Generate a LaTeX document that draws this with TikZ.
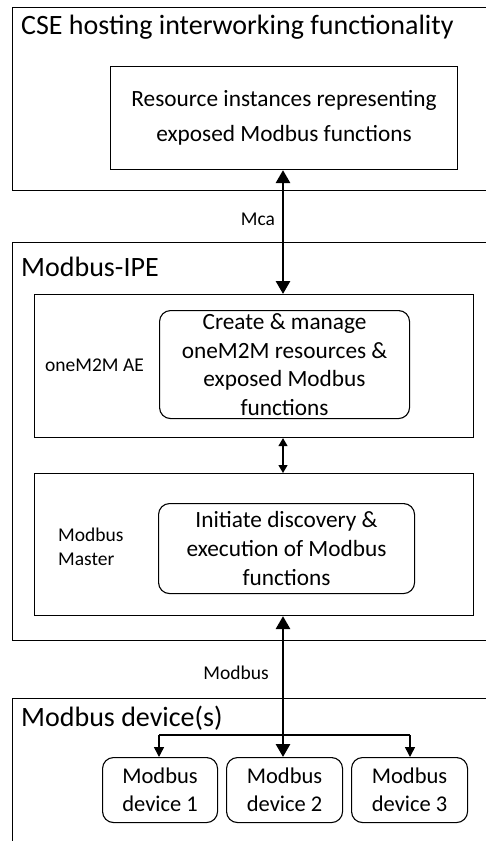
\documentclass[tikz,border=0pt]{standalone}
\usepackage{fontspec}
\setmainfont{Carlito}
\usetikzlibrary{arrows.meta}
\begin{document}
\begin{tikzpicture}[x=1pt,y=-1pt,
  outerbox/.style={draw, line width=1.2pt, anchor=north west, inner sep=0pt},
  innerbox/.style={draw, line width=1.1pt, anchor=north west, inner sep=0pt},
  roundbox/.style={draw, line width=1.1pt, rounded corners=11pt, anchor=north west, inner sep=0pt, align=center},
  title/.style={anchor=west, inner sep=0pt, font=\fontsize{28}{33}\selectfont},
  lbl/.style={inner sep=0pt, font=\fontsize{19.5}{24}\selectfont},
  boxtext/.style={font=\fontsize{22.5}{28}\selectfont, align=center, inner sep=0pt},
  bigboth/.style={line width=2.8pt, {Triangle[length=13pt,width=14pt]}-{Triangle[length=13pt,width=14pt]}},
  thinboth/.style={line width=1.3pt, {Triangle[length=8pt,width=9pt]}-{Triangle[length=8pt,width=9pt]}},
  thinarrow/.style={line width=1.5pt, -{Triangle[length=10pt,width=10pt]}}
]
\clip (0,0) rectangle (486,841);
\fill[white] (0,0) rectangle (486,841);

% CSE box
\node[outerbox, minimum width=490pt, minimum height=183pt] (cse) at (12,7) {};
\node[title] (csetitle) at (21,27) {CSE hosting interworking functionality};
\node[innerbox, minimum width=347pt, minimum height=103pt] (res) at (110,66) {};
\node[boxtext, font=\fontsize{23.3}{35}\selectfont] (restext) at (res.center) {Resource instances representing\\exposed Modbus functions};

% Modbus-IPE box
\node[outerbox, minimum width=490pt, minimum height=398pt] (ipe) at (12,242) {};
\node[title] (ipetitle) at (21,267) {Modbus-IPE};

\node[innerbox, minimum width=439pt, minimum height=143pt] (ae) at (34,294) {};
\node[lbl, anchor=west] (aelabel) at (45,365) {oneM2M AE};
\node[roundbox, minimum width=250pt, minimum height=108pt] (create) at (159,310) {};
\node[boxtext, font=\fontsize{23.3}{28.5}\selectfont] (createtext) at (create.center) {Create \& manage\\oneM2M resources \&\\exposed Modbus\\functions};

\node[innerbox, minimum width=439pt, minimum height=142pt] (master) at (34,473) {};
\node[lbl, anchor=west, align=left, font=\fontsize{19.5}{24.5}\selectfont] (masterlabel) at (58,547) {Modbus\\Master};
\node[roundbox, minimum width=256pt, minimum height=90pt] (init) at (158,503) {};
\node[boxtext, font=\fontsize{23.3}{29}\selectfont] (inittext) at (init.center) {Initiate discovery \&\\execution of Modbus\\functions};

% Modbus device(s) box
\node[outerbox, minimum width=490pt, minimum height=160pt] (devs) at (12,698) {};
\node[title] (devstitle) at (21,718) {Modbus device(s)};

\node[roundbox, minimum width=115pt, minimum height=65pt] (d1) at (102,757) {};
\node[boxtext] (d1text) at (d1.center) {Modbus\\device 1};
\node[roundbox, minimum width=116pt, minimum height=65pt] (d2) at (226,757) {};
\node[boxtext] (d2text) at (d2.center) {Modbus\\device 2};
\node[roundbox, minimum width=116pt, minimum height=65pt] (d3) at (351,757) {};
\node[boxtext] (d3text) at (d3.center) {Modbus\\device 3};

% connectors
\draw[bigboth] (res.south -| 283,0) -- (ae.north -| 283,0);
\node[lbl] (mca) at (258,219) {Mca};
\draw[thinboth] (ae.south -| 283,0) -- (master.north -| 283,0);

\coordinate (b1) at (159,735);
\coordinate (b3) at (410,735);
\draw[line width=1.5pt] (b1) -- (b3);
\draw[thinarrow] (b1) -- (b1 |- d1.north);
\draw[thinarrow] (b3) -- (b3 |- d3.north);
\draw[bigboth] (master.south -| 283,0) -- (d2.north -| 283,0);
\node[lbl] (modbuslbl) at (236,673) {Modbus};
\end{tikzpicture}
\end{document}
